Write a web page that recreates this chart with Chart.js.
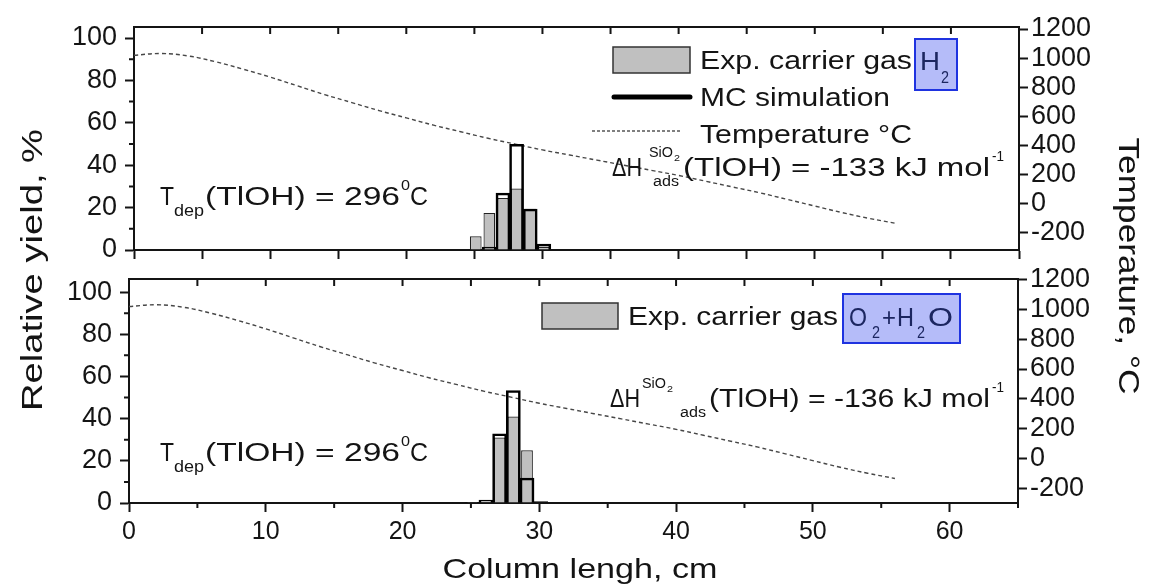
<!DOCTYPE html>
<html>
<head>
<meta charset="utf-8">
<script src="https://cdn.jsdelivr.net/npm/chart.js@4.4.1/dist/chart.umd.min.js"></script>
<style>
html, body { margin: 0; padding: 0; background: #fff; }
#wrap { position: relative; width: 1149px; height: 588px; }
#wrap canvas { position: absolute; left: 0; top: 0; }
</style>
</head>
<body>
<div id="wrap">
  <canvas id="topChart" width="1149" height="588"></canvas>
  <canvas id="botChart" width="1149" height="588"></canvas>
</div>
<script>
// column length (cm) and oven temperature profile (deg C)
var lengthCm = [0, 2, 4, 6, 8, 10, 12, 14, 16, 18, 20, 22, 24, 26, 28, 30, 32, 34, 36, 38, 40, 42, 44, 46, 48, 50, 52, 54, 56];
var temperatureC = [1020, 1032, 1015, 975, 925, 870, 810, 750, 695, 640, 590, 540, 495, 450, 410, 370, 335, 300, 265, 230, 195, 155, 115, 75, 30, -15, -60, -100, -135];

// top panel: carrier gas H2
var binsH2 = [25.1, 26.1, 27.1, 28.1, 29.1, 30.1];
var expH2 = [6.5, 17.5, 24.5, 29, 19.5, 1.5];
var mcH2 = [0, 1.5, 27, 50, 19.5, 3];

// bottom panel: carrier gas O2+H2O
var binsO2 = [23.1, 24.1, 25.1, 26.1, 27.1, 28.1, 29.1, 30.1];
var expO2 = [0.3, 0.3, 0.5, 0.5, 31, 41, 25, 0.3];
var mcO2 = [0, 0, 0.5, 1.5, 33, 53.5, 12, 0.8];

// ticks
var xMajor = [0, 10, 20, 30, 40, 50, 60];
var xMinor = [5, 15, 25, 35, 45, 55, 65];
var yMajor = [0, 20, 40, 60, 80, 100];
var yMinor = [10, 30, 50, 70, 90];
var tMajor = [-200, 0, 200, 400, 600, 800, 1000, 1200];

var FONT = '"Liberation Sans", Arial, sans-serif';
var INK = '#141414';

function pts(xs, ys) {
  return xs.map(function (x, i) { return {x: x, y: ys[i]}; });
}

// draw a text stretched horizontally to a given width
function fitText(ctx, text, x, y, size, width, opts) {
  opts = opts || {};
  ctx.save();
  ctx.font = size + 'px ' + FONT;
  ctx.fillStyle = opts.color || INK;
  ctx.textBaseline = opts.baseline || 'alphabetic';
  ctx.textAlign = opts.align || 'left';
  var w = ctx.measureText(text).width;
  var sx = width ? width / w : 1;
  ctx.translate(x, y);
  if (opts.rot) ctx.rotate(opts.rot);
  ctx.scale(sx, 1);
  ctx.fillText(text, 0, 0);
  ctx.restore();
}

function ticksFrom(list) {
  return function (scale) { scale.ticks = list.map(function (v) { return {value: v}; }); };
}

function plain(v) { return String(v); }

var axisGrid = {drawOnChartArea: false, tickLength: 9, tickWidth: 2, tickColor: INK, offset: false};
var axisBorder = {display: true, width: 2, color: INK};
var xFont = {family: FONT, size: 25};
var yFont = {family: FONT, size: 27};

// frame top, inward top ticks, short minor ticks, annotations
var panelExtras = {
  id: 'panelExtras',
  afterDraw: function (chart, args, o) {
    var ctx = chart.ctx, a = chart.chartArea, x = chart.scales.x, y = chart.scales.y;
    ctx.save();
    ctx.strokeStyle = INK;
    ctx.lineWidth = 2;
    ctx.beginPath();
    ctx.moveTo(a.left - 1, a.top);
    ctx.lineTo(a.right + 1, a.top);
    xMinor.concat(xMajor).forEach(function (v) {
      var px = x.getPixelForValue(v);
      ctx.moveTo(px, a.top);
      ctx.lineTo(px, a.top + 7);
    });
    yMinor.forEach(function (v) {
      var py = y.getPixelForValue(v);
      ctx.moveTo(a.left, py);
      ctx.lineTo(a.left - 5, py);
    });
    if (o.minorX) {
      xMinor.forEach(function (v) {
        var px = x.getPixelForValue(v);
        ctx.moveTo(px, a.bottom);
        ctx.lineTo(px, a.bottom + 5);
      });
    }
    ctx.stroke();
    ctx.restore();
    if (o.draw) o.draw(ctx);
  }
};

function gasBox(ctx, x0, y0, w, h) {
  ctx.save();
  ctx.fillStyle = 'rgba(168,176,248,0.85)';
  ctx.strokeStyle = '#1f33e0';
  ctx.lineWidth = 2;
  ctx.fillRect(x0, y0, w, h);
  ctx.strokeRect(x0, y0, w, h);
  ctx.restore();
}

function expSwatch(ctx, x0, y0, w, h) {
  ctx.save();
  ctx.fillStyle = '#c0c0c0';
  ctx.strokeStyle = '#333';
  ctx.lineWidth = 1.5;
  ctx.fillRect(x0, y0, w, h);
  ctx.strokeRect(x0, y0, w, h);
  ctx.restore();
}

// p: x positions of delta H, SiO2, ads, text start
function enthalpy(ctx, y, value, p) {
  fitText(ctx, '\u0394H', p[0], y, 26, 30);
  fitText(ctx, 'SiO', p[1], y - 19, 14, 24);
  fitText(ctx, '2', p[1] + 25, y - 15, 9, 6);
  fitText(ctx, 'ads', p[2], y + 10, 14, 26);
  fitText(ctx, '(TlOH) = ' + value + ' kJ mol', p[3], y, 26, 990 - p[3]);
  fitText(ctx, '-1', 992, y - 15, 14, 12);
}

function tdep(ctx, y) {
  fitText(ctx, 'T', 160, y, 26, 14);
  fitText(ctx, 'dep', 174, y + 11, 16, 30);
  fitText(ctx, '(TlOH) = 296', 205, y, 26, 195);
  fitText(ctx, '0', 401, y - 15, 15, 9);
  fitText(ctx, 'C', 410, y, 26, 18);
}

function drawTopNotes(ctx) {
  expSwatch(ctx, 613, 47, 77, 26);
  fitText(ctx, 'Exp. carrier gas', 700, 69, 25, 212);
  gasBox(ctx, 915, 39, 42, 51);
  fitText(ctx, 'H', 920, 70, 25, 20, {color: '#1c2660'});
  fitText(ctx, '2', 941, 83, 16, 8, {color: '#1c2660'});
  ctx.save();
  ctx.strokeStyle = '#000';
  ctx.lineWidth = 5;
  ctx.lineCap = 'round';
  ctx.beginPath();
  ctx.moveTo(614, 97);
  ctx.lineTo(690, 97);
  ctx.stroke();
  ctx.lineWidth = 1.2;
  ctx.lineCap = 'butt';
  ctx.setLineDash([3, 2]);
  ctx.beginPath();
  ctx.moveTo(592, 131);
  ctx.lineTo(680, 131);
  ctx.stroke();
  ctx.restore();
  fitText(ctx, 'MC simulation', 700, 106, 25, 190);
  fitText(ctx, 'Temperature \u00b0C', 700, 143, 25, 212);
  enthalpy(ctx, 176, '-133', [612, 649, 653, 683]);
  tdep(ctx, 205);
}

function drawBottomNotes(ctx) {
  expSwatch(ctx, 542, 303, 76, 26);
  fitText(ctx, 'Exp. carrier gas', 628, 325, 25, 210);
  gasBox(ctx, 843, 294, 117, 49);
  var c = {color: '#1c2660'};
  fitText(ctx, 'O', 849, 326, 25, 18, c);
  fitText(ctx, '2', 872, 338, 16, 8, c);
  fitText(ctx, '+', 882, 326, 25, 14, c);
  fitText(ctx, 'H', 897, 326, 25, 17, c);
  fitText(ctx, '2', 917, 338, 16, 8, c);
  fitText(ctx, 'O', 928, 326, 25, 25, c);
  enthalpy(ctx, 407, '-136', [610, 642, 680, 709]);
  tdep(ctx, 461);
  // axis titles spanning the figure
  fitText(ctx, 'Relative yield, %', 34, 270, 29, 282, {align: 'center', baseline: 'middle', rot: -Math.PI / 2});
  fitText(ctx, 'Temperature, \u00b0C', 1127, 266, 29, 257, {align: 'center', baseline: 'middle', rot: Math.PI / 2});
  fitText(ctx, 'Column lengh, cm', 580, 570, 28, 275, {align: 'center', baseline: 'middle'});
}

function makePanel(id, cfg) {
  return new Chart(document.getElementById(id), {
    type: 'bar',
    data: {
      datasets: [{
        type: 'bar',
        label: 'MC simulation',
        data: pts(cfg.bins, cfg.mc),
        backgroundColor: 'rgba(0,0,0,0)',
        borderColor: '#000',
        borderWidth: 2.6,
        barPercentage: 1.08,
        categoryPercentage: 1.0,
        grouped: false,
        yAxisID: 'y'
      }, {
        type: 'bar',
        label: 'Exp.',
        data: pts(cfg.bins, cfg.exp),
        backgroundColor: '#c0c0c0',
        borderColor: '#222',
        borderWidth: 1.2,
        barPercentage: 0.86,
        categoryPercentage: 1.0,
        grouped: false,
        yAxisID: 'y'
      }, {
        type: 'line',
        label: 'Temperature',
        data: pts(lengthCm, temperatureC),
        borderColor: '#474747',
        borderWidth: 1.4,
        borderDash: [4, 3],
        pointRadius: 0,
        tension: 0.4,
        fill: false,
        yAxisID: 'yT'
      }]
    },
    options: {
      responsive: false,
      animation: false,
      layout: {padding: cfg.padding},
      plugins: {
        legend: {display: false},
        tooltip: {enabled: false},
        panelExtras: {minorX: cfg.labelsX, draw: cfg.draw}
      },
      scales: {
        x: {
          type: 'linear', position: 'bottom', min: 0, max: 65, offset: false,
          afterBuildTicks: ticksFrom(cfg.labelsX ? xMajor : xMajor.concat(xMinor).sort(function (a, b) { return a - b; })),
          afterFit: function (s) { s.height = cfg.labelsX ? 40 : 10; },
          ticks: {display: cfg.labelsX, autoSkip: false, maxRotation: 0, padding: 5, color: INK, font: xFont, callback: plain},
          grid: axisGrid,
          border: axisBorder
        },
        y: {
          position: 'left', min: 0, max: cfg.yMax,
          afterBuildTicks: ticksFrom(yMajor),
          afterFit: function (s) { s.width = 70; },
          ticks: {autoSkip: false, padding: 8, color: INK, font: yFont, callback: plain},
          grid: axisGrid,
          border: axisBorder
        },
        yT: {
          position: 'right', min: cfg.tMin, max: cfg.tMax,
          afterBuildTicks: ticksFrom(tMajor),
          afterFit: function (s) { s.width = 80; },
          ticks: {autoSkip: false, padding: 3, color: INK, font: yFont, callback: plain},
          grid: axisGrid,
          border: axisBorder
        }
      }
    },
    plugins: [panelExtras]
  });
}

makePanel('topChart', {
  bins: binsH2, exp: expH2, mc: mcH2,
  yMax: 105.2, tMin: -317, tMax: 1214,
  labelsX: false,
  padding: {left: 64, right: 50, top: 27, bottom: 328},
  draw: drawTopNotes
});

makePanel('botChart', {
  bins: binsO2, exp: expO2, mc: mcO2,
  yMax: 106.2, tMin: -300, tMax: 1205,
  labelsX: true,
  padding: {left: 59, right: 51, top: 279, bottom: 45},
  draw: drawBottomNotes
});
</script>
</body>
</html>
